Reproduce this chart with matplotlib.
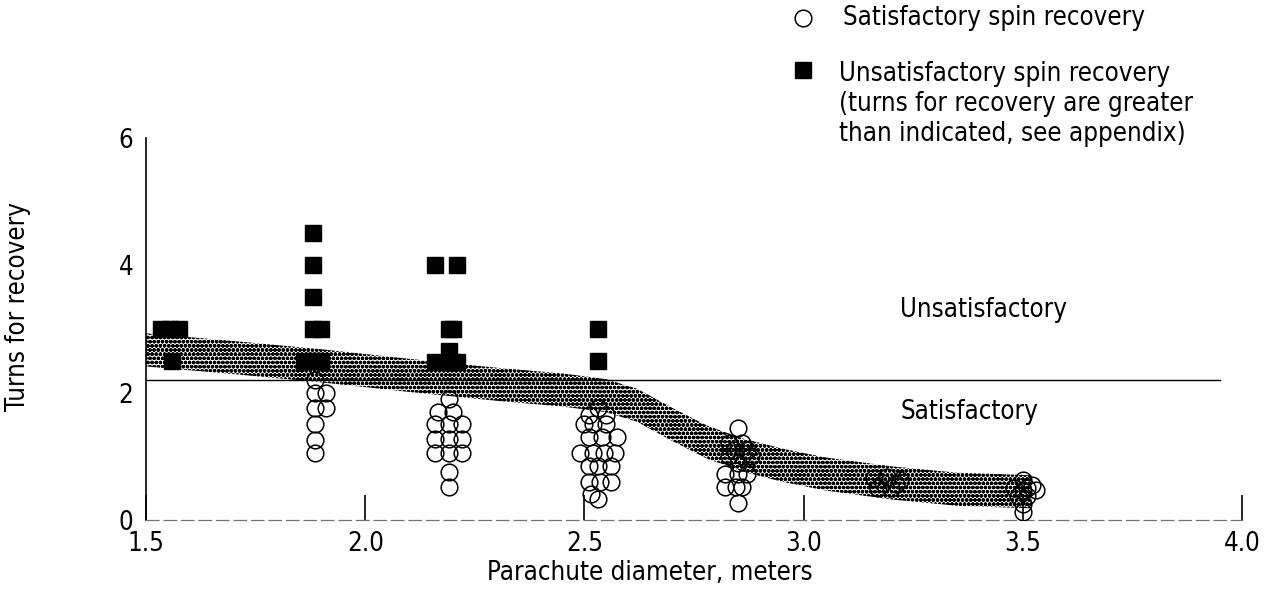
import matplotlib
matplotlib.use("Agg")
import matplotlib.pyplot as plt
from matplotlib.lines import Line2D
from matplotlib import font_manager

names = {f.name for f in font_manager.fontManager.ttflist}
narrow = [n for n in ("Liberation Sans Narrow", "DejaVu Sans Condensed") if n in names]
plt.rcParams["font.family"] = narrow + ["DejaVu Sans"]
if not narrow:
    plt.rcParams["font.stretch"] = "condensed"
plt.rcParams["hatch.linewidth"] = 1.3

# satisfactory spin recovery (open circles)
sat_x = [1.885, 1.885, 1.91, 1.885, 1.91, 1.885, 1.885, 1.885,
         2.19, 2.165, 2.20, 2.16, 2.19, 2.22, 2.16, 2.19, 2.22, 2.16, 2.19, 2.22, 2.19, 2.19,
         2.53, 2.51, 2.55, 2.50, 2.52, 2.55, 2.51, 2.54, 2.575, 2.49, 2.52, 2.545, 2.57,
         2.51, 2.53, 2.56, 2.51, 2.535, 2.56, 2.515, 2.53,
         2.85, 2.83, 2.86, 2.84, 2.87, 2.83, 2.86, 2.88, 2.85, 2.82, 2.85, 2.87,
         2.82, 2.845, 2.86, 2.85,
         3.16, 3.19, 3.22, 3.17, 3.20, 3.18, 3.21,
         3.50, 3.48, 3.51, 3.53, 3.50, 3.52, 3.49, 3.51, 3.50, 3.50]
sat_y = [2.2, 2.0, 2.0, 1.75, 1.75, 1.5, 1.25, 1.05,
         1.9, 1.7, 1.7, 1.5, 1.5, 1.5, 1.27, 1.27, 1.27, 1.05, 1.05, 1.05, 0.75, 0.52,
         1.75, 1.65, 1.65, 1.5, 1.5, 1.5, 1.3, 1.3, 1.3, 1.05, 1.05, 1.05, 1.05,
         0.85, 0.85, 0.85, 0.6, 0.6, 0.6, 0.4, 0.33,
         1.45, 1.2, 1.2, 1.1, 1.1, 1.0, 1.0, 1.0, 0.9, 0.72, 0.72, 0.72,
         0.52, 0.52, 0.52, 0.27,
         0.65, 0.68, 0.62, 0.5, 0.5, 0.58, 0.56,
         0.62, 0.5, 0.5, 0.47, 0.45, 0.55, 0.38, 0.38, 0.25, 0.12]

# unsatisfactory spin recovery (filled squares)
unsat_x = [1.535, 1.555, 1.575, 1.56,
           1.88, 1.88, 1.88, 1.88, 1.90, 1.86, 1.88, 1.90,
           2.16, 2.21, 2.19, 2.20, 2.19, 2.16, 2.195, 2.21,
           2.53, 2.53]
unsat_y = [3.0, 3.0, 3.0, 2.5,
           4.5, 4.0, 3.5, 3.0, 3.0, 2.5, 2.5, 2.5,
           4.0, 4.0, 3.0, 3.0, 2.65, 2.48, 2.48, 2.48,
           3.0, 2.5]

# faired band
band_x = [1.5, 1.7, 1.9, 2.1, 2.3, 2.45, 2.55, 2.62, 2.7, 2.78, 2.86, 2.95, 3.05, 3.2, 3.35, 3.52]
band_hi = [2.93, 2.81, 2.68, 2.53, 2.39, 2.30, 2.21, 2.06, 1.76, 1.48, 1.28, 1.12, 0.98, 0.84, 0.74, 0.70]
band_lo = [2.41, 2.29, 2.16, 2.01, 1.87, 1.78, 1.69, 1.54, 1.24, 0.96, 0.76, 0.60, 0.46, 0.32, 0.22, 0.18]

boundary = 2.2
xticks = [1.5, 2.0, 2.5, 3.0, 3.5, 4.0]
xticklabels = ["1.5", "2.0", "2.5", "3.0", "3.5", "4.0"]
yticks = [0, 2, 4, 6]

fig = plt.figure(figsize=(12.7, 5.9), dpi=100)
ax = fig.add_axes([0.115, 0.119, 0.863, 0.647])

ax.fill_between(band_x, band_lo, band_hi, facecolor="white", edgecolor="black",
                hatch="oooo", linewidth=0, zorder=1)
ax.plot([1.5, 3.95], [boundary, boundary], color="black", lw=1.0, zorder=2)
ax.plot(sat_x, sat_y, "o", ms=12, mfc="none", mec="black", mew=1.1, zorder=3)
ax.plot(unsat_x, unsat_y, "s", ms=11, mfc="black", mec="black", zorder=4)

ax.text(3.22, 3.3, "Unsatisfactory", fontsize=18.5, va="center")
ax.text(3.22, 1.7, "Satisfactory", fontsize=18.5, va="center")

ax.set_xlim(1.5, 4.0)
ax.set_ylim(0, 6)
ax.set_xticks(xticks)
ax.set_xticklabels(xticklabels, fontsize=18.5)
ax.set_yticks(yticks)
ax.tick_params(axis="x", direction="in", length=18, width=1.2, pad=8)
ax.tick_params(axis="y", length=0, pad=9, labelsize=18.5)
for s in ("top", "right"):
    ax.spines[s].set_visible(False)
ax.spines["left"].set_linewidth(1.2)
ax.spines["bottom"].set_color("0.45")
ax.spines["bottom"].set_linewidth(0.9)
ax.spines["bottom"].set_linestyle((0, (10, 4)))

ax.set_ylabel("Turns for recovery", fontsize=18.5)
ax.yaxis.set_label_coords(-0.105, 0.56)
ax.set_xlabel("Parachute diameter, meters", fontsize=18.5)
ax.xaxis.set_label_coords(0.46, -0.105)

# key
fig.add_artist(Line2D([0.632], [0.9695], transform=fig.transFigure, marker="o", ms=12,
                      mfc="none", mec="black", mew=1.1, ls="none"))
fig.text(0.664, 0.9695, "Satisfactory spin recovery", fontsize=18.5, va="center")
fig.add_artist(Line2D([0.632], [0.881], transform=fig.transFigure, marker="s", ms=11,
                      mfc="black", mec="black", ls="none"))
fig.text(0.661, 0.897, "Unsatisfactory spin recovery\n(turns for recovery are greater\n"
         "than indicated, see appendix)", fontsize=18.5, va="top", linespacing=1.2)

fig.savefig("out.png", dpi=100)
